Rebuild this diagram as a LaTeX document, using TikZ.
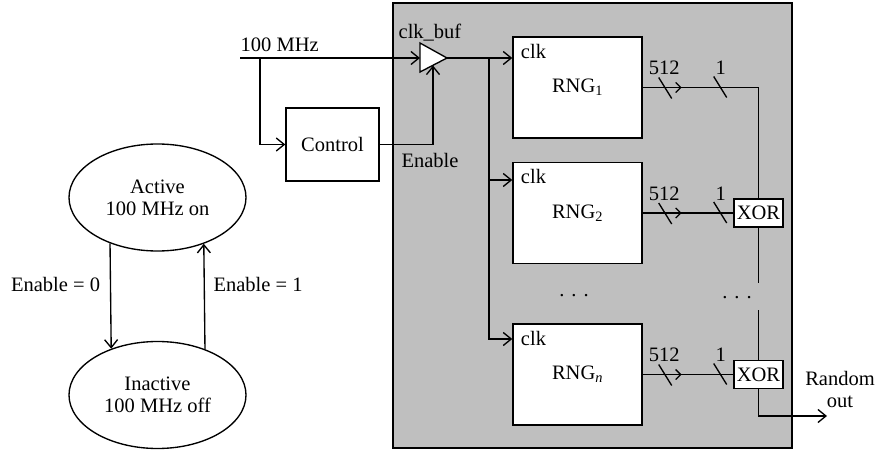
\documentclass[tikz,border=0pt]{standalone}
\usepackage{fontspec}
\setmainfont{Liberation Serif}
\usetikzlibrary{arrows.meta,shapes.geometric,calc}
\begin{document}
\begin{tikzpicture}[x=1pt,y=-1pt,
  line width=1.35pt,
  every node/.style={font=\fontsize{20.5}{22}\selectfont, inner sep=0pt},
  arr/.style={-{Straight Barb[length=8pt,width=13pt,line width=1.35pt]}},
  box/.style={draw, fill=white, line width=1.4pt},
  state/.style={draw, ellipse, minimum width=177pt, minimum height=107pt, align=center},
]
\useasboundingbox (0,0) rectangle (876,452);
% chip background
\node[draw, fill=gray!50, minimum width=399pt, minimum height=445pt, line width=1.4pt] (chip) at (592.5,225.5) {};

% boxes
\node[box, minimum width=93pt, minimum height=73pt] (ctrl) at (332.5,144.5) {Control};
\node[box, minimum width=129pt, minimum height=101pt] (r1) at (577.5,87.5) {RNG\textsubscript{1}};
\node[box, minimum width=129pt, minimum height=101pt] (r2) at (577.5,213) {RNG\textsubscript{2}};
\node[box, minimum width=129pt, minimum height=101pt] (rn) at (577.5,374.5) {RNG\textsubscript{\textit{n}}};
\foreach \r in {r1,r2,rn} {
  \node[anchor=base west] (\r clk) at ($(\r.north west)+(8,22)$) {clk};
}

% buffer
\coordinate (bufin) at (420,58);
\coordinate (bufout) at (447,58);
\coordinate (bufen) at (433,65.5);
\draw[fill=white] (420,43) -- (bufout) -- (420,72) -- cycle;
\node (lbuf) at (430,33) {clk\_buf};
\node (len) at (430,160) {Enable};

% input
\node[anchor=base west] (l100) at (240,52) {100 MHz};
\coordinate (in) at (240,58);
\coordinate (br) at (260,58);
\draw[arr] (in) -- (bufin);
\draw[arr] (br) |- (ctrl.west);
\draw[arr] (ctrl.east) -| (bufen);

% clock distribution
\coordinate (tap) at (489,58);
\coordinate (c2) at (489,180);
\coordinate (cn) at (489,339);
\draw[arr] (bufout) -- (r1.west |- bufout);
\draw[arr] (tap) |- (rn.west |- cn);
\draw[arr] (c2) -- (r2.west |- c2);

% XOR nodes
\node[box, minimum width=49pt, minimum height=28pt] (x2) at (758.5,213) {XOR};
\node[box, minimum width=49pt, minimum height=28pt] (xn) at (758.5,374.5) {XOR};

% buses
\foreach \r in {r1,r2,rn} {
  \draw ($(\r.east)+(16,-10)$) -- ($(\r.east)+(29,11)$);
  \draw ($(\r.east)+(33,-5)$) -- ($(\r.east)+(38,0)$) -- ($(\r.east)+(33,5)$);
  \draw ($(\r.east)+(71,-11)$) -- ($(\r.east)+(84,10)$);
  \node[anchor=base] (\r w) at ($(\r.east)+(21.5,-13)$) {512};
  \node[anchor=base] (\r o) at ($(\r.east)+(78,-13)$) {1};
}
\draw (r1.east) -| (x2.north);
\draw (r2.east) -- (x2.west);
\draw (rn.east) -- (xn.west);
\coordinate (d1) at (758.5,283);
\coordinate (d2) at (758.5,310);
\draw (x2.south) -- (d1);
\draw (d2) -- (xn.north);
\coordinate (out) at (827,416);
\draw[arr] (xn.south) |- (out);

\node (dl) at (574,296) {.\hspace{7pt}.\hspace{7pt}.};
\node (dr) at (737,298) {.\hspace{7pt}.\hspace{7pt}.};
\node[align=center] (rout) at (840,389) {Random\\out};

% state machine
\node[state] (act) at (157.5,197.5) {Active\\100 MHz on};
\node[state] (ina) at (157.5,395) {Inactive\\100 MHz off};
\draw[arr] (act.224.4) -- (ina.135.6);
\draw[arr] (ina.44.4) -- (act.315.6);
\node (e0) at (55.5,284) {Enable = 0};
\node (e1) at (258,284) {Enable = 1};
\end{tikzpicture}
\end{document}
